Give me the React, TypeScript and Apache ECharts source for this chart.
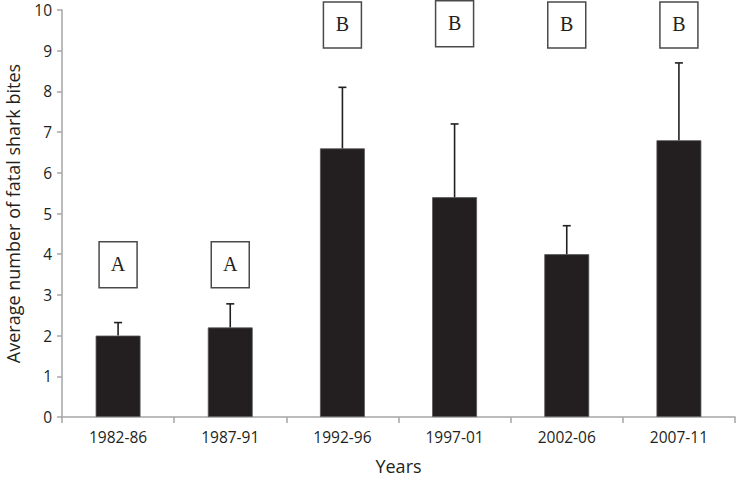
import { useEffect, useRef } from 'react'
import * as echarts from 'echarts'

const periods = ['1982-86', '1987-91', '1992-96', '1997-01', '2002-06', '2007-11']
const means = [2.0, 2.2, 6.6, 5.4, 4.0, 6.8]
const upperErrors = [2.32, 2.78, 8.1, 7.2, 4.7, 8.7]
const groupLetters = ['A', 'A', 'B', 'B', 'B', 'B']
const letterLevels = [3.74, 3.74, 9.63, 9.66, 9.63, 9.63]
const yTicks = [0, 10, 1]

const ink = '#231f20'
const axisGray = '#a6a6a6'
const labelFont = '"Open Sans", "Noto Sans", sans-serif'

export default function App() {
  const chartRef = useRef<HTMLDivElement>(null)

  useEffect(() => {
    if (!chartRef.current) return
    const chart = echarts.init(chartRef.current, undefined, { renderer: 'svg' })

    const option: any = {
      animation: false,
      grid: { left: 62, right: 3, top: 10, bottom: 62, containLabel: false, outerBoundsMode: 'none' },
      xAxis: {
        type: 'category',
        data: periods,
        name: 'Years',
        nameLocation: 'middle',
        nameGap: 40,
        nameTextStyle: { fontFamily: labelFont, fontSize: 18, color: ink },
        axisLine: { lineStyle: { color: axisGray, width: 1.5 } },
        axisTick: { show: true, length: 6, lineStyle: { color: axisGray, width: 1.5 } },
        axisLabel: { margin: 12, fontFamily: labelFont, fontSize: 15.5, color: ink }
      },
      yAxis: {
        type: 'value',
        min: yTicks[0],
        max: yTicks[1],
        interval: yTicks[2],
        name: 'Average number of fatal shark bites',
        nameLocation: 'middle',
        nameGap: 40,
        nameTextStyle: { fontFamily: labelFont, fontSize: 18, color: ink },
        axisLine: { show: true, lineStyle: { color: axisGray, width: 1.5 } },
        axisTick: { show: true, length: 5, lineStyle: { color: axisGray, width: 1.5 } },
        splitLine: { show: false },
        axisLabel: { margin: 10, fontFamily: labelFont, fontSize: 15.5, color: ink }
      },
      series: [
        {
          type: 'bar',
          data: means,
          barWidth: '40%',
          itemStyle: { color: ink, borderColor: '#555', borderWidth: 0.8 },
          z: 2
        },
        {
          type: 'custom',
          data: means.map((m, i) => [i, m, upperErrors[i]]),
          z: 3,
          renderItem: (_params: any, api: any) => {
            const i = api.value(0)
            const base = api.coord([i, api.value(1)])
            const top = api.coord([i, api.value(2)])
            const style = { stroke: ink, lineWidth: 1.6 }
            return {
              type: 'group',
              children: [
                { type: 'line', shape: { x1: base[0], y1: base[1], x2: top[0], y2: top[1] }, style },
                { type: 'line', shape: { x1: top[0] - 4, y1: top[1], x2: top[0] + 4, y2: top[1] }, style }
              ]
            }
          }
        },
        {
          type: 'custom',
          data: letterLevels.map((v, i) => [i, v]),
          z: 4,
          renderItem: (params: any, api: any) => {
            const p = api.coord([api.value(0), api.value(1)])
            const w = 38
            const h = 46
            return {
              type: 'group',
              children: [
                {
                  type: 'rect',
                  shape: { x: p[0] - w / 2, y: p[1] - h / 2, width: w, height: h },
                  style: { fill: '#fff', stroke: '#4a4a4a', lineWidth: 1.5 }
                },
                {
                  type: 'text',
                  x: p[0],
                  y: p[1] - 1,
                  style: {
                    text: groupLetters[params.dataIndex],
                    fontFamily: '"Liberation Serif", "DejaVu Serif", serif',
                    fontSize: 20,
                    fill: ink,
                    align: 'center',
                    verticalAlign: 'middle'
                  }
                }
              ]
            }
          }
        }
      ]
    }

    chart.setOption(option)
    return () => chart.dispose()
  }, [])

  return (
    <div
      ref={chartRef}
      style={{ position: 'fixed', left: 0, top: 0, width: 738, height: 479, background: '#fff' }}
    />
  )
}
